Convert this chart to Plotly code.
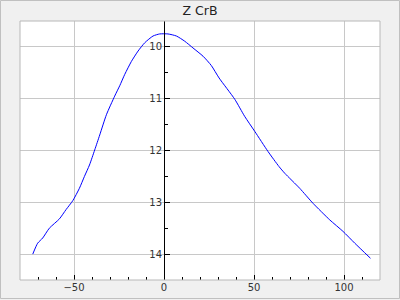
import plotly.graph_objects as go

# Phase (days) and magnitude
phase = [-72.9, -70.2, -67.4, -63.7, -58.1, -54.4, -50.7, -47.0, -44.2, -41.4,
         -38.5, -35.7, -32.0, -27.4, -24.6, -21.8, -18.1, -14.4, -10.7, -6.1,
         -2.4, 2.2, 6.9, 11.5, 16.1, 21.7, 26.3, 30.6, 39.3, 44.8, 50.4,
         57.8, 63.9, 67.1, 75.4, 82.8, 92.1, 99.4, 106.0, 114.7]
mag = [14.00, 13.79, 13.69, 13.50, 13.32, 13.14, 12.97, 12.73, 12.50, 12.28,
       11.99, 11.70, 11.31, 10.95, 10.75, 10.53, 10.28, 10.08, 9.92, 9.79,
       9.75, 9.75, 9.79, 9.89, 10.02, 10.18, 10.36, 10.60, 11.01,
       11.34, 11.63, 12.02, 12.31, 12.44, 12.73, 13.02, 13.34, 13.56, 13.79,
       14.08]

title_text = "Z CrB"
x_range = [-80, 120]
y_range = [14.5, 9.5]

L, R, T, B = 20, 20, 21, 20
W, H = 400, 300
pw, ph = W - L - R, H - T - B

fig = go.Figure()
fig.add_trace(go.Scatter(x=phase, y=mag, mode="lines",
                         line=dict(color="#0000ff", width=1, shape="spline", smoothing=0.6),
                         hoverinfo="skip", showlegend=False))

font = dict(family="DejaVu Sans", size=10, color="#333333")

fig.update_layout(
    width=W, height=H,
    margin=dict(l=L, r=R, t=T, b=B, autoexpand=False),
    paper_bgcolor="#f0f0f0",
    plot_bgcolor="#ffffff",
    font=font,
    title=dict(text=title_text, x=0.5, xanchor="center",
               y=1 - 10.7 / H, yanchor="middle", yref="container",
               font=dict(family="DejaVu Sans", size=12.5, color="#222222")),
    xaxis=dict(range=x_range, dtick=50, tick0=0, automargin=False,
               showgrid=True, gridcolor="#c8c8c8", gridwidth=1,
               zeroline=False, showline=False,
               ticks="inside", ticklen=5, tickcolor="#000000", tickwidth=1,
               minor=dict(dtick=10, tick0=0, ticks="inside", ticklen=3,
                          tickcolor="#000000", showgrid=False),
               tickfont=font, fixedrange=True),
    yaxis=dict(range=y_range, dtick=1, tick0=10, automargin=False,
               anchor="free", position=(0 - x_range[0]) / (x_range[1] - x_range[0]),
               showgrid=True, gridcolor="#c8c8c8", gridwidth=1,
               zeroline=False, showline=True, linecolor="#000000", linewidth=1,
               ticks="inside", ticklen=5, tickcolor="#000000", tickwidth=1,
               minor=dict(dtick=0.5, tick0=10, ticks="inside", ticklen=3,
                          tickcolor="#000000", showgrid=False),
               tickfont=font, fixedrange=True),
    shapes=[
        dict(type="rect", xref="paper", yref="paper", x0=0, y0=0, x1=1, y1=1,
             line=dict(color="#b8b8b8", width=1), layer="above"),
        dict(type="rect", xref="paper", yref="paper",
             x0=-(L - 0.5) / pw, x1=1 + (R - 0.5) / pw,
             y0=-(B - 1.5) / ph, y1=1 + (T - 0.5) / ph,
             line=dict(color="#c0c0c0", width=1), layer="above"),
    ],
)

fig.write_html("out.html")
